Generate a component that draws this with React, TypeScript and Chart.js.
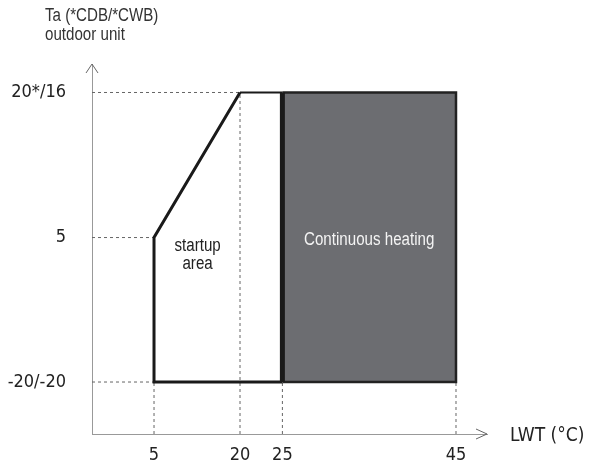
import React, { useEffect, useRef } from 'react';
import { Chart, registerables, LinearScale } from 'chart.js';

// ---- data ----
const xTicks = [5, 20, 25, 45];
const xTickLabels = ['5', '20', '25', '45'];
const yTicks = [-20, 5, 20];
const yTickLabels = ['-20/-20', '5', '20*/16'];

// startup area outline (LWT °C, Ta)
const startupLWT = [25, 5, 5, 20];
const startupTa = [-20, -20, 5, 20];
const startupTopLWT = [20, 25];
const startupTopTa = [20, 20];

// continuous heating block
const heatingLWT = [25, 45];
const heatingTopTa = [20, 20];
const heatingBottomTa = -20;
const heatingOutlineLWT = [25, 45, 45, 25];
const heatingOutlineTa = [20, 20, -20, -20];
const heatingEdgeLWT = [25, 25];
const heatingEdgeTa = [-20, 20];

// dashed guide lines
const guideTa = [20, 5, -20];
const guideTaToLWT = [20, 5, 5];
const guideLWT = [5, 20, 25, 45];
const guideLWTToTa = [-20, 20, -20, -20];

const X_MIN = 0, X_MAX = 50, Y_MIN = -30, Y_MAX = 30;

// schematic (non-proportional) axis layout: value -> fraction of axis length
const STOPS: Record<string, [number, number][]> = {
  x: [[X_MIN, 0], [5, 0.157], [20, 0.3747], [25, 0.482], [45, 0.9215], [X_MAX, 1]],
  y: [[Y_MIN, 0], [-20, 0.1405], [5, 0.531], [20, 0.923], [Y_MAX, 1]],
};

function toFrac(stops: [number, number][], v: number) {
  for (let i = 0; i < stops.length - 1; i++) {
    const [v0, f0] = stops[i];
    const [v1, f1] = stops[i + 1];
    if (v <= v1 || i === stops.length - 2) return f0 + ((v - v0) * (f1 - f0)) / (v1 - v0);
  }
  return 0;
}
function fromFrac(stops: [number, number][], f: number) {
  for (let i = 0; i < stops.length - 1; i++) {
    const [v0, f0] = stops[i];
    const [v1, f1] = stops[i + 1];
    if (f <= f1 || i === stops.length - 2) return v0 + ((f - f0) * (v1 - v0)) / (f1 - f0);
  }
  return 0;
}

class SchematicScale extends LinearScale {
  static id = 'schematic';
  static defaults = { ...(LinearScale as any).defaults };
  getPixelForValue(value: number) {
    return (this as any).getPixelForDecimal(toFrac(STOPS[(this as any).id], value));
  }
  getValueForPixel(pixel: number) {
    return fromFrac(STOPS[(this as any).id], (this as any).getDecimalForPixel(pixel));
  }
}

Chart.register(...registerables, SchematicScale as any);

const pts = (xs: number[], ys: number[]) => xs.map((x, i) => ({ x, y: ys[i] }));

const SANS = "'Liberation Sans', Arial, sans-serif";
const COND = "'DejaVu Sans Condensed', 'DejaVu Sans', sans-serif";
const SQUEEZE = 0.84;

function narrowText(ctx: CanvasRenderingContext2D, text: string, x: number, y: number) {
  ctx.save();
  ctx.translate(x, y);
  ctx.scale(SQUEEZE, 1);
  ctx.fillText(text, 0, 0);
  ctx.restore();
}

const decorPlugin = {
  id: 'decor',
  afterDraw(chart: any) {
    const { ctx, chartArea } = chart;
    const { left, right, top, bottom } = chartArea;
    const xs = chart.scales.x;
    const ys = chart.scales.y;
    ctx.save();
    ctx.strokeStyle = '#666';
    ctx.lineWidth = 1;
    ctx.beginPath();
    ctx.moveTo(left - 6, top + 9);
    ctx.lineTo(left, top);
    ctx.lineTo(left + 6, top + 9);
    ctx.moveTo(right - 11, bottom - 5);
    ctx.lineTo(right, bottom);
    ctx.lineTo(right - 11, bottom + 5);
    ctx.stroke();

    ctx.fillStyle = '#333';
    ctx.textAlign = 'left';
    ctx.textBaseline = 'alphabetic';
    ctx.font = `18px ${SANS}`;
    narrowText(ctx, 'Ta (*CDB/*CWB)', 45, 21);
    narrowText(ctx, 'outdoor unit', 45, 40);

    ctx.font = `19px ${COND}`;
    ctx.fillStyle = '#222';
    ctx.textBaseline = 'middle';
    ctx.fillText('LWT (°C)', 510, bottom + 2);

    ctx.textAlign = 'center';
    ctx.font = `18px ${SANS}`;
    ctx.fillStyle = '#222';
    const sx = xs.getPixelForValue(12.6);
    const sy = ys.getPixelForValue(2);
    narrowText(ctx, 'startup', sx, sy - 9);
    narrowText(ctx, 'area', sx, sy + 9);

    ctx.fillStyle = '#f4f4f4';
    narrowText(ctx, 'Continuous heating', xs.getPixelForValue(35), ys.getPixelForValue(4.5));
    ctx.restore();
  },
};

export default function App() {
  const ref = useRef<HTMLCanvasElement>(null);
  useEffect(() => {
    if (!ref.current) return;
    const guide = (data: any[]) => ({
      data,
      showLine: true,
      borderColor: '#666',
      borderWidth: 1,
      borderDash: [3, 3],
      pointRadius: 0,
      fill: false,
    });
    const guides = [
      ...guideTa.map((t, i) => guide([{ x: X_MIN, y: t }, { x: guideTaToLWT[i], y: t }])),
      ...guideLWT.map((l, i) => guide([{ x: l, y: Y_MIN }, { x: l, y: guideLWTToTa[i] }])),
    ];
    const outline = (data: any[], width: number, color = '#1a1a1a') => ({
      data,
      showLine: true,
      borderColor: color,
      borderWidth: width,
      pointRadius: 0,
      fill: false,
      borderJoinStyle: 'miter',
    });
    const chart = new Chart(ref.current, {
      type: 'scatter',
      data: {
        datasets: [
          outline(pts(heatingEdgeLWT, heatingEdgeTa), 5),
          outline(pts(startupLWT, startupTa), 3),
          outline(pts(startupTopLWT, startupTopTa), 2),
          outline(pts(heatingOutlineLWT, heatingOutlineTa), 2.5, '#222'),
          ...guides,
          {
            data: pts(heatingLWT, heatingTopTa),
            showLine: true,
            borderWidth: 0,
            borderColor: 'rgba(0,0,0,0)',
            backgroundColor: '#6c6d71',
            pointRadius: 0,
            fill: { target: { value: heatingBottomTa } },
          },
        ] as any,
      },
      options: {
        animation: false,
        responsive: false,
        layout: { padding: { top: 64, right: 103, left: 0, bottom: 0 } },
        plugins: { legend: { display: false }, tooltip: { enabled: false }, title: { display: false } },
        scales: {
          x: {
            type: 'schematic' as any,
            min: X_MIN,
            max: X_MAX,
            grid: { display: false, drawTicks: false },
            border: { display: true, color: '#999', width: 1 },
            afterBuildTicks: (s: any) => {
              s.ticks = xTicks.map((v) => ({ value: v }));
            },
            afterFit: (s: any) => {
              s.height = 31;
              s.paddingLeft = 0;
              s.paddingRight = 0;
            },
            ticks: {
              autoSkip: false,
              maxRotation: 0,
              padding: 11,
              color: '#222',
              font: { family: COND, size: 18 },
              callback: (v: any) => xTickLabels[xTicks.indexOf(Number(v))] ?? '',
            },
          },
          y: {
            type: 'schematic' as any,
            min: Y_MIN,
            max: Y_MAX,
            grid: { display: false, drawTicks: false },
            border: { display: true, color: '#999', width: 1 },
            afterBuildTicks: (s: any) => {
              s.ticks = yTicks.map((v) => ({ value: v }));
            },
            afterFit: (s: any) => {
              s.width = 92;
              s.paddingTop = 0;
              s.paddingBottom = 0;
            },
            ticks: {
              autoSkip: false,
              padding: 26,
              color: '#222',
              font: { family: COND, size: 18 },
              callback: (v: any) => yTickLabels[yTicks.indexOf(Number(v))] ?? '',
            },
          },
        } as any,
      },
      plugins: [decorPlugin],
    });
    return () => chart.destroy();
  }, []);
  return (
    <div style={{ position: 'fixed', left: 0, top: 0, width: 590, height: 465, background: '#fff' }}>
      <canvas ref={ref} width={590} height={465} style={{ display: 'block' }} />
    </div>
  );
}
